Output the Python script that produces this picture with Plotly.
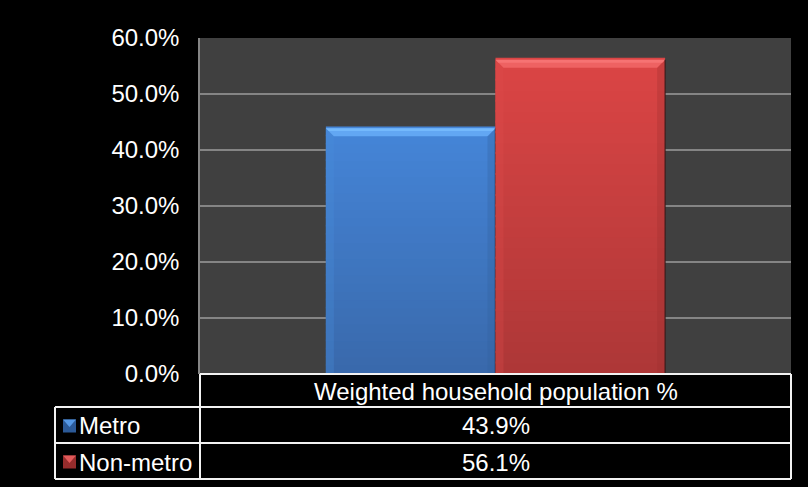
import plotly.graph_objects as go

# ---- data ----
categories = ["Weighted household population %"]
series_names = ["Metro", "Non-metro"]
metro_values = [0.439]
nonmetro_values = [0.561]
y_ticks = [0.0, 0.1, 0.2, 0.3, 0.4, 0.5, 0.6]

# ---- styling ----
W, H = 808, 487
L, R, T, B = 200, 17, 38, 113
PW, PH = W - L - R, H - T - B
Y_MAX = 0.6
BARGAP = 0.426
FONT = "Liberation Sans, Arial, sans-serif"
FS = 24

styles = {
    "Metro": dict(base="#3f7acb", top="#4585d8", bottom="#3969ab",
                  bevel_top="#62a7f3", bevel_hi="#7cc0ff",
                  bevel_left="#4a8ddc", bevel_right="#335f9c",
                  key_dark="#2c5a98", key_light="#5598e6"),
    "Non-metro": dict(base="#c93f3f", top="#db4545", bottom="#ad3737",
                      bevel_top="#ee6262", bevel_hi="#fa7a7a",
                      bevel_left="#de4c4c", bevel_right="#9c2f2f",
                      key_dark="#962c2c", key_light="#e25a5a"),
}


def px_x(px):
    return (px - L) / PW


def px_y(py):
    return (T + PH - py) / PH


def hex_to_rgb(h):
    h = h.lstrip("#")
    return tuple(int(h[i:i + 2], 16) for i in (0, 2, 4))


def mix(c1, c2, t):
    a, b = hex_to_rgb(c1), hex_to_rgb(c2)
    return "rgb(%d,%d,%d)" % tuple(round(a[i] + (b[i] - a[i]) * t) for i in range(3))


fig = go.Figure()
values_by_series = {"Metro": metro_values, "Non-metro": nonmetro_values}
for name in series_names:
    fig.add_trace(go.Bar(
        x=categories, y=values_by_series[name], name=name,
        marker=dict(color=styles[name]["base"], line=dict(width=0)),
        showlegend=False, hoverinfo="skip",
    ))

shapes = []
annotations = []

# bevel / gradient overlays computed from each bar's value and position
bar_w = (1 - BARGAP) / len(series_names)
bx = 8 / PW          # bevel width in x data units (category width = 1)
by = 8 / PH * Y_MAX  # bevel height in y data units
K = 30
for i, name in enumerate(series_names):
    st = styles[name]
    v = values_by_series[name][0]
    x0 = -(1 - BARGAP) / 2 + i * bar_w
    x1 = x0 + bar_w
    # vertical gradient
    for k in range(K):
        ya = v * k / K
        yb = v * (k + 1) / K
        t = (k + 0.5) / K
        shapes.append(dict(type="rect", xref="x", yref="y", x0=x0, x1=x1,
                           y0=ya, y1=yb + v / K * 0.2, line=dict(width=0),
                           fillcolor=mix(st["bottom"], st["top"], t), layer="above"))
    # left and right bevels
    shapes.append(dict(type="path", xref="x", yref="y", layer="above",
                       path=f"M{x0},{v} L{x0 + bx},{v - by} L{x0 + bx},0 L{x0},0 Z",
                       fillcolor=st["bevel_left"], opacity=0.3, line=dict(width=0)))
    shapes.append(dict(type="path", xref="x", yref="y", layer="above",
                       path=f"M{x1},{v} L{x1 - bx},{v - by} L{x1 - bx},0 L{x1},0 Z",
                       fillcolor=st["bevel_right"], opacity=0.3, line=dict(width=0)))
    # top bevel
    shapes.append(dict(type="path", xref="x", yref="y", layer="above",
                       path=f"M{x0},{v} L{x1},{v} L{x1 - bx},{v - by} L{x0 + bx},{v - by} Z",
                       fillcolor=st["bevel_top"], line=dict(width=0)))
    shapes.append(dict(type="path", xref="x", yref="y", layer="above",
                       path=f"M{x0},{v} L{x1},{v} L{x1 - bx * 0.35},{v - by * 0.35} L{x0 + bx * 0.35},{v - by * 0.35} Z",
                       fillcolor=st["bevel_hi"], opacity=0.7, line=dict(width=0)))
    # dark right edge
    shapes.append(dict(type="line", xref="x", yref="y", layer="above",
                       x0=x1, x1=x1, y0=0, y1=v,
                       line=dict(color="rgba(30,20,20,0.6)", width=1.5)))

# ---- data table under the plot ----
LINE = dict(color="#f2f2f2", width=2)
row_y = [374, 407, 443, 479]
left_x, mid_x, right_x = 55, 200, 791

shapes.append(dict(type="line", xref="paper", yref="paper", x0=px_x(mid_x), x1=px_x(right_x),
                   y0=px_y(row_y[0]), y1=px_y(row_y[0]), line=LINE))
for ry in row_y[1:]:
    shapes.append(dict(type="line", xref="paper", yref="paper", x0=px_x(left_x), x1=px_x(right_x),
                       y0=px_y(ry), y1=px_y(ry), line=LINE))
shapes.append(dict(type="line", xref="paper", yref="paper", x0=px_x(left_x), x1=px_x(left_x),
                   y0=px_y(row_y[1]), y1=px_y(row_y[3]), line=LINE))
for vx in (mid_x, right_x):
    shapes.append(dict(type="line", xref="paper", yref="paper", x0=px_x(vx), x1=px_x(vx),
                       y0=px_y(row_y[0]), y1=px_y(row_y[3]), line=LINE))

cx = (mid_x + right_x) / 2
annotations.append(dict(text=categories[0], xref="paper", yref="paper",
                        x=px_x(cx), y=px_y((row_y[0] + row_y[1]) / 2 + 1),
                        xanchor="center", yanchor="middle", showarrow=False,
                        font=dict(family=FONT, size=FS, color="white")))

for i, name in enumerate(series_names):
    st = styles[name]
    top, bot = row_y[i + 1], row_y[i + 2]
    cy = (top + bot) / 2 + 1
    annotations.append(dict(text=f"{values_by_series[name][0] * 100:.1f}%", xref="paper", yref="paper",
                            x=px_x(cx), y=px_y(cy), xanchor="center", yanchor="middle",
                            showarrow=False, font=dict(family=FONT, size=FS, color="white")))
    annotations.append(dict(text=name, xref="paper", yref="paper",
                            x=px_x(77), y=px_y(cy), xanchor="left", yanchor="middle",
                            showarrow=False, font=dict(family=FONT, size=FS, color="white")))
    # legend key
    k0x, k1x = 63, 76
    k0y, k1y = cy - 6.5, cy + 6.5
    mx, my = (k0x + k1x) / 2, (k0y + k1y) / 2
    shapes.append(dict(type="rect", xref="paper", yref="paper",
                       x0=px_x(k0x), x1=px_x(k1x), y0=px_y(k0y), y1=px_y(k1y),
                       fillcolor=st["key_dark"], line=dict(width=0)))
    shapes.append(dict(type="path", xref="paper", yref="paper",
                       path=f"M{px_x(k0x)},{px_y(k0y)} L{px_x(k1x)},{px_y(k0y)} L{px_x(mx)},{px_y(my + 1)} Z",
                       fillcolor=st["key_light"], line=dict(width=0)))

fig.update_layout(
    width=W, height=H,
    margin=dict(l=L, r=R, t=T, b=B, pad=0),
    paper_bgcolor="black", plot_bgcolor="#404040",
    barmode="group", bargap=BARGAP, bargroupgap=0,
    shapes=shapes, annotations=annotations,
    font=dict(family=FONT, size=FS, color="white"),
    xaxis=dict(type="category", range=[-0.5, 0.5], showticklabels=False,
               showgrid=False, zeroline=False, showline=False, ticks=""),
    yaxis=dict(range=[0, Y_MAX], tickvals=y_ticks, tickformat=".1%",
               showgrid=True, gridcolor="#858585", gridwidth=1.5,
               zeroline=False, showline=True, linecolor="#858585", linewidth=1.5,
               ticks="", ticklabelstandoff=14,
               tickfont=dict(family=FONT, size=FS, color="white")),
)

fig.write_html("out.html")
